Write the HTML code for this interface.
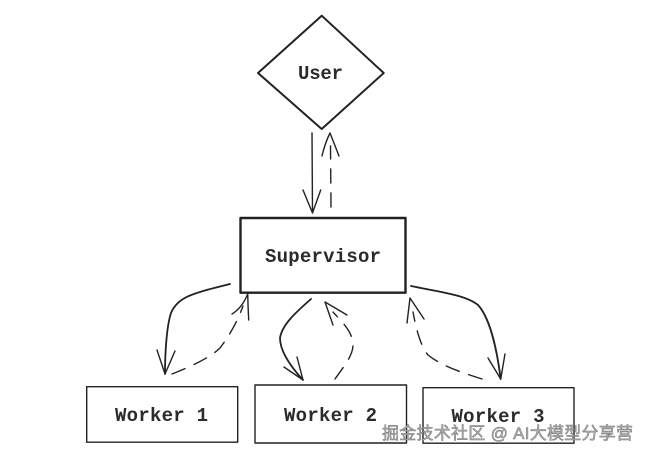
<!DOCTYPE html>
<html>
<head>
<meta charset="utf-8">
<style>
html,body{margin:0;padding:0;background:#fff;width:647px;height:456px;overflow:hidden}
svg{display:block}
.l{font-family:"Liberation Mono",monospace;font-weight:700;font-size:19px;fill:#2b2b2b}
.s{fill:none;stroke:#222;stroke-width:1.4;stroke-linecap:round;stroke-linejoin:round}
.d{stroke-dasharray:14 10}
</style>
</head>
<body>
<svg width="647" height="456" viewBox="0 0 647 456" xmlns="http://www.w3.org/2000/svg">
<rect width="647" height="456" fill="#fff"/>

<path class="s" style="stroke-width:2" d="M321.7 15.7L383.7 73L321.7 129L258 73Z"/>
<rect class="s" style="stroke-width:2.4" x="240.5" y="218" width="165" height="74.7"/>
<rect class="s" x="86.7" y="386.7" width="151" height="55.5"/>
<rect class="s" x="255" y="385" width="151.5" height="58"/>
<rect class="s" x="423" y="387.7" width="151" height="55.5"/>

<path class="s" d="M312 133L312.5 213M303 190L312.5 213L320.7 190"/>
<path class="s d" d="M331 207L330.5 146"/>
<path class="s" d="M322 156Q325 143 330 133Q334 143 339 156"/>

<path class="s" style="stroke-width:1.8" d="M230 284C195 293 178 296 171 313C167 325 165 350 165 374"/>
<path class="s" d="M157 350L165 374L175 351"/>
<path class="s d" d="M172 374C195 365 212 356 220 348C230 335 238 320 243 306"/>
<path class="s" d="M232 314Q242 308 247.7 294Q248 307 248.7 320"/>

<path class="s" style="stroke-width:1.8" d="M311 299C295 313 282 325 280 338C280 352 292 368 303 380"/>
<path class="s" d="M284 367L303 380L297 357"/>
<path class="s d" d="M335 379C345 365 353 355 353 345C353 332 342 322 333 312"/>
<path class="s" d="M347 315L325 302L333 325"/>

<path class="s" style="stroke-width:1.8" d="M411 286C440 292 466 295 478 305C490 318 497 350 500.7 379"/>
<path class="s" d="M488 358L500.7 379L505 354"/>
<path class="s d" d="M482 379C460 372 440 365 428 355C420 345 416 328 413 312"/>
<path class="s" d="M407 323L410 298L424 319"/>

<text class="l" x="320.5" y="79" text-anchor="middle" textLength="45">User</text>
<text class="l" x="323" y="262" text-anchor="middle" textLength="116">Supervisor</text>
<text class="l" x="161.5" y="421" text-anchor="middle" textLength="93">Worker 1</text>
<text class="l" x="330.5" y="421" text-anchor="middle" textLength="93">Worker 2</text>
<text class="l" x="498" y="422" text-anchor="middle" textLength="93">Worker 3</text>

<text x="382" y="439" textLength="251" lengthAdjust="spacing" style="font-family:'Liberation Sans','Noto Sans CJK SC',sans-serif;font-size:17px;fill:#b0b0b0;stroke:#777;stroke-width:0.5px">掘金技术社区 @ AI大模型分享营</text>
</svg>
</body>
</html>
